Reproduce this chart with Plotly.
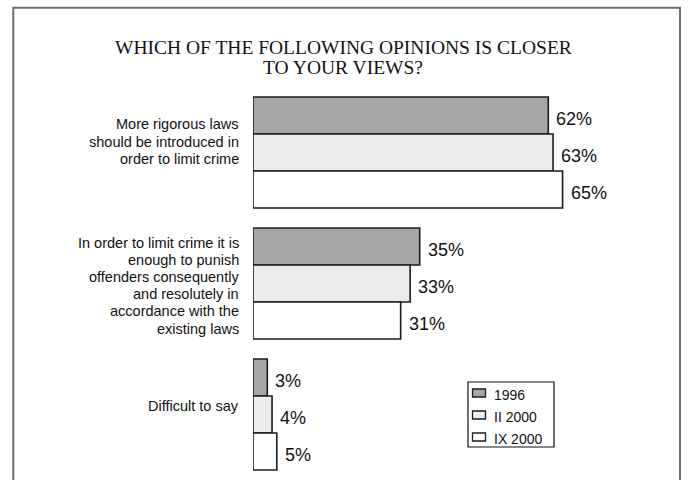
import plotly.graph_objects as go

# Survey answers (percent of respondents)
categories = [
    "More rigorous laws<br>should be introduced in<br>order to limit crime",
    "In order to limit crime it is<br>enough to punish<br>offenders consequently<br>and resolutely in<br>accordance with the<br>existing laws",
    "Difficult to say",
]
series_names = ["1996", "II 2000", "IX 2000"]
values_1996 = [62, 35, 3]
values_ii_2000 = [63, 33, 4]
values_ix_2000 = [65, 31, 5]

title_lines = ["WHICH OF THE FOLLOWING OPINIONS IS CLOSER", "TO YOUR VIEWS?"]

# Styling
fill_colors = ["#a6a6a6", "#ececec", "#ffffff"]
edge_color = "#1c1c1c"
sans = "Arial, Liberation Sans, sans-serif"
serif = "Times New Roman, Liberation Serif, serif"

W, H = 688, 480
M_L, M_R, M_T, M_B = 253, 54, 87, 0
PW, PH = W - M_L - M_R, H - M_T - M_B
BARGAP = 20 / 131


def px_x(p):
    """Convert a horizontal pixel position to paper coordinates."""
    return (p - M_L) / PW


def px_y(p):
    """Convert a vertical pixel position (from the top) to paper coordinates."""
    return (H - M_B - p) / PH


series_values = [values_1996, values_ii_2000, values_ix_2000]
n_series = len(series_values)
bar_w = (1 - BARGAP) / n_series

fig = go.Figure()
annotations = []
for j, (name, vals, col) in enumerate(zip(series_names, series_values, fill_colors)):
    fig.add_trace(go.Bar(
        name=name,
        y=categories,
        x=vals,
        orientation="h",
        marker=dict(color=col, line=dict(color=edge_color, width=1.6)),
        cliponaxis=False,
        showlegend=False,
        hoverinfo="skip",
    ))
    # value labels just past the end of each bar
    for i, v in enumerate(vals):
        y_pos = i - (1 - BARGAP) / 2 + (j + 0.5) * bar_w
        annotations.append(dict(
            text=f"{v}%", xref="x", yref="y", x=v, y=y_pos,
            xshift=6, yshift=-3, xanchor="left", yanchor="middle",
            showarrow=False,
            font=dict(family=sans, size=18, color="#111111"),
        ))

# Chart title (two centred lines)
for txt, yc in zip(title_lines, [48, 68]):
    annotations.append(dict(
        text=txt, xref="paper", yref="paper", x=px_x(343), y=px_y(yc),
        xanchor="center", yanchor="middle", showarrow=False,
        font=dict(family=serif, size=19.5, color="#111111"),
    ))

# Category labels, right-aligned to the left of the bars, one line at a time
label_shifts = [11, -2, 9]
line_step = 17.2
for cat, dy in zip(categories, label_shifts):
    lines = cat.split("<br>")
    n = len(lines)
    for k, line in enumerate(lines):
        annotations.append(dict(
            text=line, xref="paper", yref="y", x=0, y=cat,
            xshift=-12, yshift=dy - (k - (n - 1) / 2) * line_step,
            xanchor="right", yanchor="middle", align="right", showarrow=False,
            font=dict(family=sans, size=14.5, color="#111111"),
        ))

shapes = []
# Outer frame
shapes.append(dict(
    type="rect", xref="paper", yref="paper",
    x0=px_x(13.3), x1=px_x(680), y0=px_y(7.8), y1=px_y(500),
    line=dict(color="#6e6e6e", width=2), layer="below",
))

# Legend box with swatches
shapes.append(dict(
    type="rect", xref="paper", yref="paper",
    x0=px_x(468), x1=px_x(554), y0=px_y(382), y1=px_y(447),
    line=dict(color="#111111", width=1.2), fillcolor="white",
))
legend_rows = [393, 415, 437]
for name, col, yc in zip(series_names, fill_colors, legend_rows):
    shapes.append(dict(
        type="rect", xref="paper", yref="paper",
        x0=px_x(472.5), x1=px_x(485.5), y0=px_y(yc - 4), y1=px_y(yc + 4),
        line=dict(color=edge_color, width=1.3), fillcolor=col,
    ))
    annotations.append(dict(
        text=name, xref="paper", yref="paper", x=px_x(492), y=px_y(yc + 1.5),
        xanchor="left", yanchor="middle", showarrow=False,
        font=dict(family=sans, size=14, color="#111111"),
    ))

fig.update_layout(
    width=W, height=H, autosize=False,
    margin=dict(l=M_L, r=M_R, t=M_T, b=M_B, pad=0),
    paper_bgcolor="white", plot_bgcolor="white",
    barmode="group", bargap=BARGAP, bargroupgap=0,
    xaxis=dict(range=[0, 80], visible=False, fixedrange=True),
    yaxis=dict(categoryorder="array", categoryarray=categories,
               autorange="reversed", showticklabels=False, showgrid=False,
               zeroline=False, showline=False, ticks="", fixedrange=True),
    annotations=annotations,
    shapes=shapes,
    showlegend=False,
)

fig.write_html("out.html")
